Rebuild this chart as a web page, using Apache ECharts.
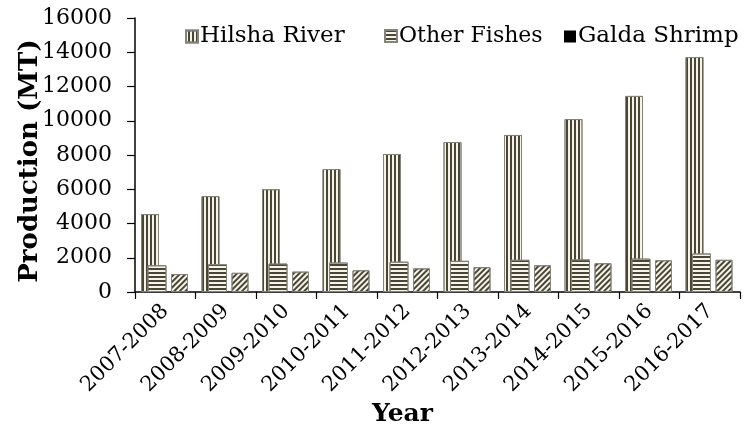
<!DOCTYPE html>
<html>
<head>
<meta charset="utf-8">
<script src="https://cdn.jsdelivr.net/npm/echarts@6/dist/echarts.min.js"></script>
<style>html,body{margin:0;padding:0;background:#fff}#c{width:751px;height:430px}</style>
</head>
<body>
<div id="c"></div>
<script>
var categories = ['2007-2008','2008-2009','2009-2010','2010-2011','2011-2012','2012-2013','2013-2014','2014-2015','2015-2016','2016-2017'];
var hilshaRiver = [4550, 5600, 6000, 7180, 8060, 8760, 9170, 10100, 11450, 13720];
var otherFishes = [1560, 1620, 1660, 1720, 1770, 1820, 1880, 1900, 1950, 2250];
var galdaShrimp = [1050, 1120, 1190, 1270, 1380, 1450, 1560, 1680, 1850, 1880];
var yTicks = [0, 2000, 4000, 6000, 8000, 10000, 12000, 14000, 16000];

var FONT = 'DejaVu Serif';
var DARK = '#4a4636';
var LIGHT = '#f6f4ea';
var BORDER = '#85837a';

function stripe(rot) {
  return { symbol: 'rect', symbolSize: 1, dashArrayX: [1, 0], dashArrayY: [2, 2], rotation: rot, color: DARK };
}

var chart = echarts.init(document.getElementById('c'), null, { renderer: 'canvas' });

function hiddenAxis() {
  return { type: 'category', data: categories, show: false, gridIndex: 0 };
}

function legendAt(left, item, size) {
  return {
    left: left, top: 20,
    itemWidth: 12, itemHeight: 12,
    icon: 'rect',
    textStyle: { fontFamily: FONT, fontSize: size, color: '#000', padding: [0, 0, 0, -3] },
    data: [item]
  };
}

chart.setOption({
  animation: false,
  backgroundColor: '#fff',
  grid: { left: 135, right: 11, top: 18, bottom: 138 },
  legend: [
    legendAt(180, { name: 'Hilsha River' }, 23),
    legendAt(379, { name: 'Other Fishes' }, 22),
    legendAt(559, { name: 'Galda Shrimp', itemStyle: { color: '#000', decal: 'none', borderWidth: 0 } }, 23)
  ],
  graphic: [{
    type: 'text', left: 372, top: 402,
    style: { text: 'Year', font: 'bold 25px "DejaVu Serif"', fill: '#000' }
  }],
  xAxis: [
    {
      type: 'category', data: categories, gridIndex: 0,
      axisLine: { lineStyle: { color: '#000', width: 1.5 } },
      axisTick: { show: true, length: 7, lineStyle: { color: '#000', width: 1.2 } },
      axisLabel: { rotate: 45, margin: 16, fontFamily: FONT, fontSize: 21, color: '#000', interval: 0 }
    },
    hiddenAxis(),
    hiddenAxis()
  ],
  yAxis: {
    type: 'value', min: 0, max: 16000, interval: 2000,
    name: 'Production (MT)', nameLocation: 'middle', nameGap: 92, nameMoveOverlap: false,
    nameTextStyle: { fontFamily: FONT, fontSize: 26, fontWeight: 'bold', color: '#000', padding: [0, 12, 0, 0] },
    axisLine: { show: true, lineStyle: { color: '#000', width: 1.5 } },
    axisTick: { show: true, length: 8, lineStyle: { color: '#000', width: 1.2 } },
    splitLine: { show: false },
    axisLabel: { margin: 23, fontFamily: FONT, fontSize: 22, color: '#000',
      formatter: function (v) { return yTicks.indexOf(v) >= 0 ? String(v) : ''; } }
  },
  series: [
    { name: 'Hilsha River', type: 'bar', xAxisIndex: 1, data: hilshaRiver, barWidth: 18, barGap: '0%',
      itemStyle: { color: LIGHT, borderColor: BORDER, borderWidth: 1, decal: stripe(Math.PI / 2) } },
    { name: '_pad1', type: 'bar', xAxisIndex: 1, data: [], barWidth: 30.5, barGap: '0%', silent: true },
    { name: 'Other Fishes', type: 'bar', xAxisIndex: 2, data: otherFishes, barWidth: 19, barGap: '0%',
      itemStyle: { color: LIGHT, borderColor: BORDER, borderWidth: 1, decal: stripe(0) } },
    { name: '_pad2', type: 'bar', xAxisIndex: 2, data: [], barWidth: 16.5, barGap: '0%', silent: true },
    { name: '_pad3', type: 'bar', xAxisIndex: 0, data: [], barWidth: 28.5, barGap: '0%', silent: true },
    { name: 'Galda Shrimp', type: 'bar', xAxisIndex: 0, data: galdaShrimp, barWidth: 17, barGap: '0%',
      itemStyle: { color: LIGHT, borderColor: BORDER, borderWidth: 1, decal: stripe(-Math.PI / 4) } }
  ]
});
</script>
</body>
</html>
